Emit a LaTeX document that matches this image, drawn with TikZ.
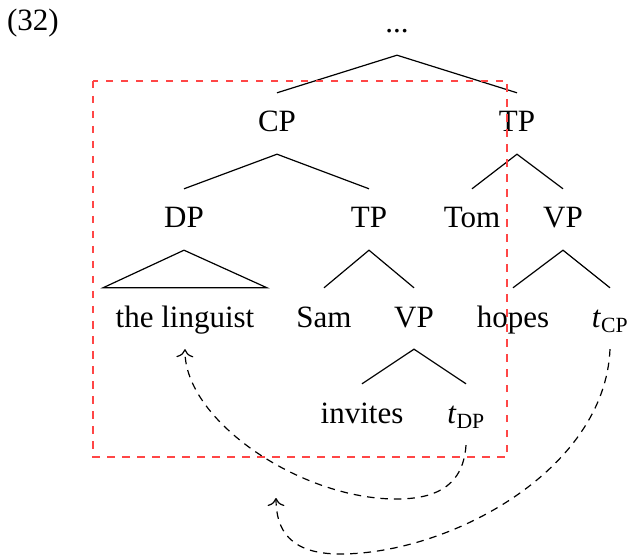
\documentclass[tikz,border=0pt]{standalone}
\usepackage{fontspec}
\setmainfont{Liberation Serif}
\usetikzlibrary{arrows.meta}
\definecolor{boxred}{RGB}{255,70,70}
\tikzset{
  lab/.style={anchor=base, inner sep=0pt, text height=39pt, text depth=22pt,
    font=\fontsize{31}{37}\selectfont},
  br/.style={line width=1.2pt, black},
  mv/.style={line width=1.2pt, black, dash pattern=on 7.5pt off 6pt, -{To[scale=1.9]}},
  redbox/.style={line width=1.4pt, boxred, dash pattern=on 7.5pt off 7.5pt}
}
\newcommand{\trace}[1]{\textit{t}\textsubscript{#1}}
\begin{document}
\begin{tikzpicture}[x=1pt,y=-1pt]
\useasboundingbox (0,0) rectangle (627,556);
\node[lab] (ex) at (33,31) {(32)};
\node[lab] (top) at (397,33) {...};
\node[lab] (CP) at (277,132) {CP};
\node[lab] (TPa) at (517,132) {TP};
\node[lab] (DP) at (184,228) {DP};
\node[lab] (TPb) at (369,228) {TP};
\node[lab] (Tom) at (472,228) {Tom};
\node[lab] (VPa) at (563,228) {VP};
\node[lab] (ling) at (185,327) {the linguist};
\node[lab] (Sam) at (324,327) {Sam};
\node[lab] (VPb) at (414,327) {VP};
\node[lab] (hopes) at (513,327) {hopes};
\node[lab] (tCP) at (610,327) {\trace{CP}};
\node[lab] (inv) at (362,423) {invites};
\node[lab] (tDP) at (466,423) {\trace{DP}};
\coordinate (land) at (276,498);

\draw[br] (CP.north) -- (top.south) -- (TPa.north);
\draw[br] (DP.north) -- (CP.south) -- (TPb.north);
\draw[br] (Tom.north) -- (TPa.south) -- (VPa.north);
\draw[br] (DP.south) -- ([xshift=-82pt]ling.north) -- ([xshift=82pt]ling.north) -- cycle;
\draw[br] (Sam.north) -- (TPb.south) -- (VPb.north);
\draw[br] (hopes.north) -- (VPa.south) -- (tCP.north);
\draw[br] (inv.north) -- (VPb.south) -- (tDP.north);

\draw[redbox] (93,81) rectangle (507,457);

\draw[mv] (tDP.south) .. controls (463,490) and (430,499) .. (396,499)
  .. controls (300,499) and (184,420) .. (ling.south);
\draw[mv] (tCP.south) .. controls (605,470) and (450,554) .. (340,554)
  .. controls (290,554) and (276,530) .. (land);
\end{tikzpicture}
\end{document}
